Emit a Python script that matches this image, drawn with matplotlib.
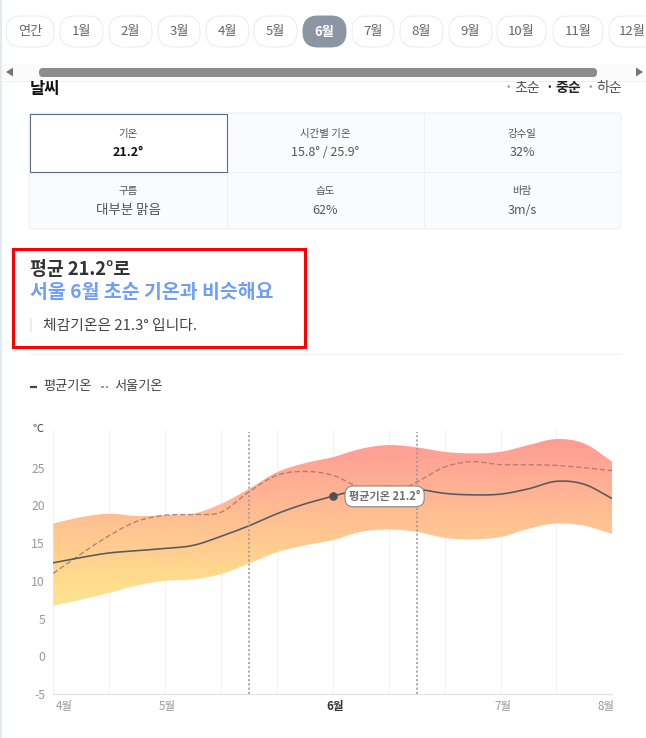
import numpy as np
import matplotlib
matplotlib.use("Agg")
import matplotlib.pyplot as plt
from matplotlib.patches import FancyBboxPatch, Rectangle, Polygon
from matplotlib.colors import LinearSegmentedColormap

plt.rcParams['font.family'] = ['Noto Sans CJK KR', 'DejaVu Sans']

# ---- data ----
pill_labels = ['연간', '1월', '2월', '3월', '4월', '5월', '6월', '7월', '8월', '9월', '10월', '11월', '12월']
period_labels = ['초순', '중순', '하순']
card_titles = ['기온', '시간별 기온', '강수일', '구름', '습도', '바람']
card_values = ['21.2°', '15.8° / 25.9°', '32%', '대부분 맑음', '62%', '3m/s']

week_pos = [0, .5, 1, 1.5, 2, 2.5, 3, 3.5, 4, 4.5, 5, 5.5, 6, 6.5, 7, 7.5, 8, 8.5, 9, 9.5, 10]
temp_high = [17.6, 18.45, 18.9, 18.6, 18.7, 18.9, 20.2, 22.2, 24.4, 25.6, 26.4, 27.5, 28.0, 27.7, 27.1, 26.9, 27.1, 28.0, 28.8, 28.2, 25.8]
temp_low = [6.7, 7.5, 8.4, 9.4, 10.0, 10.2, 10.9, 12.3, 13.8, 14.7, 15.4, 16.5, 16.8, 16.5, 15.7, 15.5, 15.8, 16.9, 17.6, 17.3, 16.2]
temp_mean = [12.4, 13.1, 13.7, 14.0, 14.3, 14.7, 15.9, 17.3, 18.9, 20.2, 21.2, 22.2, 22.5, 22.2, 21.6, 21.4, 21.5, 22.2, 23.2, 22.8, 20.9]
temp_seoul = [11.0, 13.6, 16.0, 17.9, 18.7, 18.8, 19.1, 21.8, 24.0, 24.5, 24.0, 22.3, 21.5, 23.1, 25.1, 25.8, 25.4, 25.4, 25.3, 25.0, 24.6]
y_ticks = [-5, 0, 5, 10, 15, 20, 25]
x_grid = [0, 1, 2, 3, 4, 5, 6, 7, 8, 9, 10]
month_ticks = [('4월', 0.2), ('5월', 2.03), ('6월', 5.04), ('7월', 8.04), ('8월', 9.88)]
period_marks = [3.5, 6.5]
selected_week = 5
selected_value = 21.2


def smooth(x, y, n=12):
    """Hermite drawing of the read points, only to round the line between them."""
    x = np.asarray(x, float); y = np.asarray(y, float)
    m = np.gradient(y, x)
    xs, ys = [], []
    for i in range(len(x) - 1):
        t = np.linspace(0, 1, n, endpoint=False)
        h = x[i + 1] - x[i]
        ys.append((2*t**3 - 3*t**2 + 1)*y[i] + (t**3 - 2*t**2 + t)*h*m[i]
                  + (-2*t**3 + 3*t**2)*y[i + 1] + (t**3 - t**2)*h*m[i + 1])
        xs.append(x[i] + t*h)
    return np.r_[np.concatenate(xs), x[-1]], np.r_[np.concatenate(ys), y[-1]]


W, H = 646, 738
fig = plt.figure(figsize=(W/100, H/100), dpi=100, facecolor='white')
ui = fig.add_axes([0, 0, 1, 1], zorder=0)
ui.set_xlim(0, W); ui.set_ylim(H, 0); ui.axis('off')


def T(x, y, s, px=13, color='#444444', ha='center', weight='normal', target=ui):
    target.text(x, y + 1.2, s, fontsize=px*0.72, color=color, ha=ha, va='center', fontweight=weight)


def hl(x0, x1, y, c, lw=1):
    ui.plot([x0, x1], [y, y], color=c, lw=lw*0.72, solid_capstyle='butt')


def vl(x, y0, y1, c, lw=1):
    ui.plot([x, x], [y0, y1], color=c, lw=lw*0.72, solid_capstyle='butt')


# page edge
vl(1, 0, H, '#e4eaf1', 2)

# month pills
pill_edges = [(6, 54), (60, 103), (109, 152), (158, 200), (206, 249), (254, 297), (303, 346),
              (352, 394), (400, 443), (449, 492), (497, 546), (553, 603), (609, 660)]
for lab, (a, b) in zip(pill_labels, pill_edges):
    on = lab == '6월'
    ui.add_patch(FancyBboxPatch((a + 15, 16 + 15), b - a - 30, 1, boxstyle='round,pad=15,rounding_size=15',
                                fc='#8b95a3' if on else 'white', ec='#8b95a3' if on else '#ececec', lw=0.7, clip_on=True))
    tx = 632 if lab == '12월' else (a + b)/2
    T(tx, 30.5, lab, 13.2, 'white' if on else '#666666', weight='bold' if on else 'normal')

# scroll bar
ui.add_patch(Rectangle((3, 64), 640, 16, fc='#fbfbfb', ec='none'))
ui.add_patch(FancyBboxPatch((43, 72), 550, 1, boxstyle='round,pad=4,rounding_size=4', fc='#8c8c8c', ec='none'))
ui.add_patch(Polygon([[6, 72], [13, 67.5], [13, 76.5]], fc='#777777', ec='none'))
ui.add_patch(Polygon([[643, 72], [636, 67.5], [636, 76.5]], fc='#777777', ec='none'))
hl(3, 646, 80.5, '#edf0f4')

# heading
T(30, 88, '날씨', 16.5, '#111111', ha='left', weight='bold')
for lab, cx_, bold in zip(period_labels, [527, 568, 609], [False, True, False]):
    T(cx_, 86.5, lab, 14, '#222222' if bold else '#555555', weight='bold' if bold else 'normal')
    T(cx_ - 19, 86.5, '·', 13, '#222222' if bold else '#999999', weight='bold')

# card table
ui.add_patch(FancyBboxPatch((33, 117), 584, 108, boxstyle='round,pad=4,rounding_size=4',
                            fc='#fafbfd', ec='#edf0f4', lw=0.8))
vl(226.5, 114, 228, '#edf0f4'); vl(423.5, 114, 228, '#edf0f4'); hl(30, 620, 171.5, '#edf0f4')
ui.add_patch(Rectangle((29.5, 114), 197, 57.5, fc='white', ec='#5f6b7f', lw=0.8, zorder=3))
cx = [128, 325, 522]
for i, (t, v) in enumerate(zip(card_titles, card_values)):
    r = i // 3
    ui.text(cx[i % 3], 134 + 57*r, t, fontsize=10.5*0.72, color='#555555', ha='center', va='center', zorder=4)
    c = '#111111' if i == 0 else '#555555'
    px = 13.5 if i == 3 else 12.5
    ui.text(cx[i % 3], 153 + 57*r, v, fontsize=px*0.72, color=c, ha='center', va='center',
            fontweight='bold' if i == 0 else 'medium', zorder=4)

# highlighted text box
ui.add_patch(Rectangle((12.5, 248.5), 292, 98, fc='none', ec='#ff0000', lw=3*0.72))
T(30, 268, '평균 21.2°로', 18.4, '#333333', ha='left', weight='bold')
T(30, 291, '서울 6월 초순 기온과 비슷해요', 19.4, '#6e9efa', ha='left', weight='bold')
vl(30.5, 318, 332, '#e9edf2', 2)
T(43, 324.5, '체감기온은 21.3° 입니다.', 14.8, '#444444', ha='left')
hl(29, 621, 353.5, '#f0f2f5')

# legend
hl(30, 37, 386.5, '#444444', 2.2)
T(43, 385.5, '평균기온', 13.2, '#444444', ha='left')
ui.plot([101, 108], [386.5, 386.5], color='#999999', lw=1.4, ls=(0, (1.6, 0.9)))
T(114, 385.5, '서울기온', 13.2, '#444444', ha='left')

# ---- chart ----
L, R, TOP, BOT = 53.3, 612.3, 430, 694
ax = fig.add_axes([L/W, 1 - BOT/H, (R - L)/W, (BOT - TOP)/H], zorder=1)
ax.patch.set_alpha(0)
ax.set_xlim(0, 10); ax.set_ylim(-5, 30)
for s in ['top', 'right', 'left']:
    ax.spines[s].set_visible(False)
ax.spines['bottom'].set_color('#e4e4e4'); ax.spines['bottom'].set_linewidth(0.9)
ax.set_xticks(x_grid); ax.tick_params(axis='x', length=0, labelbottom=False)
ax.set_yticks(y_ticks); ax.tick_params(axis='y', length=0, pad=6)
ax.set_yticklabels([str(v) for v in y_ticks], fontsize=8.8, color='#999999', fontweight='medium')
ax.grid(axis='x', color='#f1f1f3', lw=0.8); ax.set_axisbelow(True)

xh, yh = smooth(week_pos, temp_high)
xl, yl = smooth(week_pos, temp_low)
cmap = LinearSegmentedColormap.from_list('band', [(0, '#f7e39a'), (0.10, '#ffe08c'), (0.45, '#ffc592'), (1, '#ff9a96')])
grad = np.linspace(1, 0, 256).reshape(-1, 1)
im = ax.imshow(grad, extent=[0, 10, 6.5, 29], aspect='auto', cmap=cmap, vmin=0, vmax=1, zorder=1, interpolation='bilinear')
clip = Polygon(np.c_[np.r_[xh, xl[::-1]], np.r_[yh, yl[::-1]]], transform=ax.transData, fc='none', ec='none')
ax.add_patch(clip)
im.set_clip_path(clip)
ax.set_xlim(0, 10); ax.set_ylim(-5, 30)

xs, ys = smooth(week_pos, temp_seoul)
ax.plot(xs, ys, color='#a87a6a', lw=0.95, ls=(0, (4, 2)), alpha=0.9, zorder=3)
xm, ym = smooth(week_pos, temp_mean)
ax.plot(xm, ym, color='#555960', lw=1.15, zorder=4)
for x in period_marks:
    ax.plot([x, x], [-5, 29.7], color='#999999', lw=1.1, ls=(0, (1.4, 1.4)), zorder=5)
ax.plot([selected_week], [selected_value], 'o', ms=5.2, color='#4d5157', zorder=6)
ax.annotate(f'평균기온 {selected_value}°', (selected_week, selected_value), xytext=(37.3, 0),
            textcoords='offset points', ha='center', va='center', fontsize=8, color='#707070', fontweight='bold',
            bbox=dict(boxstyle='round,pad=0.35,rounding_size=0.75', fc='white', ec='#888888', lw=0.8), zorder=7)

T(38, 428, '℃', 11, '#444444', weight='medium')
for lab, x in month_ticks:
    px = L + (R - L)*x/10
    b = lab == '6월'
    T(px, 705, lab, 11.6, '#333333' if b else '#999999', weight='bold' if b else 'medium')

fig.savefig('out.png', dpi=100)
